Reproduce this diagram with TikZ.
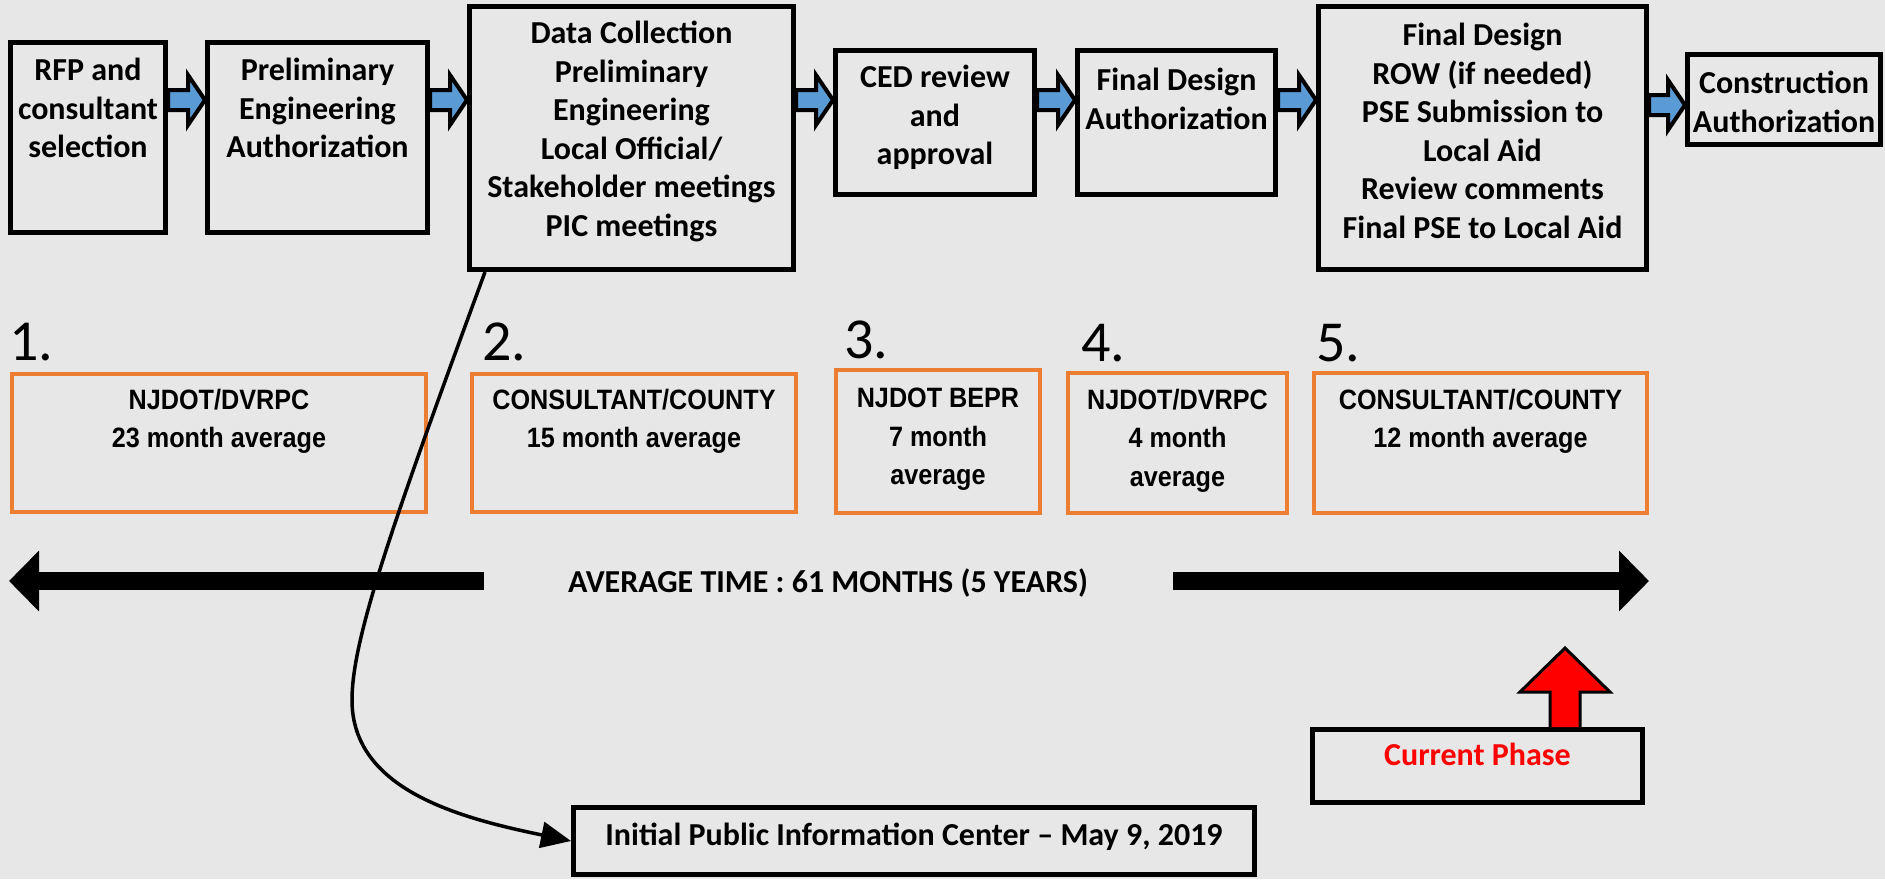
\documentclass[tikz,border=0pt]{standalone}
\usepackage{fontspec}
\setmainfont{Carlito}
\newfontfamily\narrowsans[FakeStretch=0.9]{Liberation Sans}
\usepackage{tikz}
\usetikzlibrary{arrows.meta,positioning,calc}

\definecolor{bggrey}{HTML}{E7E7E7}
\definecolor{flowblue}{HTML}{5B9BD5}
\definecolor{avgorange}{HTML}{ED7D31}

\newcommand{\flowarrow}[3]{%
  \draw[flow] let \p1=(#1.east |- 0,#3), \p2=(#2.west |- 0,#3) in
    (\x1,\y1+10pt) -- (\x2-17pt,\y1+10pt) -- (\x2-17pt,\y1+25pt) -- (\x2,\y1)
    -- (\x2-17pt,\y1-25pt) -- (\x2-17pt,\y1-10pt) -- (\x1,\y1-10pt) -- cycle;}

\begin{document}
\begin{tikzpicture}[x=1pt,y=-1pt,
    stage/.style={draw,line width=5pt,anchor=north west,inner sep=0pt},
    stagetext/.style={align=center,inner sep=0pt,
        font=\bfseries\fontsize{32}{38.5}\selectfont},
    agency/.style={draw=avgorange,line width=4pt,anchor=north west,inner sep=0pt},
    agencytext/.style={align=center,inner sep=0pt,
        font=\narrowsans\bfseries\fontsize{28}{38.5}\selectfont},
    phaseno/.style={anchor=base west,inner sep=0pt,font=\fontsize{58}{60}\selectfont},
    flow/.style={draw,line width=4pt,fill=flowblue},
    timeline/.style={line width=18pt,-{Triangle[length=30pt,width=59pt]}},
    picline/.style={line width=3.5pt,-{Triangle[length=30pt,width=26pt]}},
    nowarrow/.style={draw,line width=3pt,fill=red}]

  \path[use as bounding box,fill=bggrey] (0,0) rectangle (1885,879);

  \node[stage,minimum width=155pt,minimum height=190pt] (rfp) at (8,40) {};
  \node[stage,minimum width=220pt,minimum height=190pt] (pea) at (205,40) {};
  \node[stage,minimum width=324pt,minimum height=263pt] (dc) at (467,4) {};
  \node[stage,minimum width=199pt,minimum height=144pt] (ced) at (833,48) {};
  \node[stage,minimum width=198pt,minimum height=144pt] (fda) at (1075,48) {};
  \node[stage,minimum width=328pt,minimum height=263pt] (fd) at (1316,4) {};
  \node[stage,minimum width=193pt,minimum height=90pt] (ca) at (1685,52) {};

  \node[stagetext,below=18pt of rfp.north] {RFP and\\consultant\\selection};
  \node[stagetext,below=18pt of pea.north] {Preliminary\\Engineering\\Authorization};
  \node[stagetext,below=17pt of dc.north] {Data Collection\\Preliminary\\Engineering\\
    Local Official/\\Stakeholder meetings\\PIC meetings};
  \node[stagetext,below=17pt of ced.north] {CED review\\and\\approval};
  \node[stagetext,below=20pt of fda.north] {Final Design\\Authorization};
  \node[stagetext,below=19pt of fd.north] {Final Design\\ROW (if needed)\\
    PSE Submission to\\Local Aid\\Review comments\\Final PSE to Local Aid};
  \node[stagetext,below=19pt of ca.north] {Construction\\Authorization};

  \flowarrow{rfp}{pea}{100}
  \flowarrow{pea}{dc}{100}
  \flowarrow{dc}{ced}{100}
  \flowarrow{ced}{fda}{100}
  \flowarrow{fda}{fd}{100}
  \flowarrow{fd}{ca}{105}

  \node[phaseno] (n1) at (9,360) {1.};
  \node[phaseno] (n2) at (482,360) {2.};
  \node[phaseno] (n3) at (844,358) {3.};
  \node[phaseno] (n4) at (1081,361) {4.};
  \node[phaseno] (n5) at (1316,361) {5.};

  \node[agency,minimum width=414pt,minimum height=138pt] (nj1) at (10,372) {};
  \node[agency,minimum width=324pt,minimum height=138pt] (cc1) at (470,372) {};
  \node[agency,minimum width=204pt,minimum height=143pt] (bepr) at (834,368) {};
  \node[agency,minimum width=219pt,minimum height=140pt] (nj2) at (1066,371) {};
  \node[agency,minimum width=333pt,minimum height=140pt] (cc2) at (1312,371) {};

  \node[agencytext,below=17pt of nj1.north] {NJDOT/DVRPC\\23 month average};
  \node[agencytext,below=17pt of cc1.north] {CONSULTANT/COUNTY\\15 month average};
  \node[agencytext,below=20pt of bepr.north] {NJDOT BEPR\\7 month\\average};
  \node[agencytext,below=18pt of nj2.north] {NJDOT/DVRPC\\4 month\\average};
  \node[agencytext,below=18pt of cc2.north] {CONSULTANT/COUNTY\\12 month average};

  \node[stagetext] (avg) at (828,583) {AVERAGE TIME : 61 MONTHS (5 YEARS)};
  \coordinate (tl) at (484,581);
  \coordinate (tstart) at (9,581);
  \coordinate (tr) at (1173,581);
  \coordinate (tend) at (1649,581);
  \draw[timeline] (tl) -- (tstart);
  \draw[timeline] (tr) -- (tend);

  \node[stage,minimum width=681pt,minimum height=67pt] (pic) at (571,805) {};
  \node[stagetext,below=17.5pt of pic.north] {Initial Public Information Center -- May 9, 2019};
  \draw[picline] ([xshift=18pt]dc.south west) .. controls (390,530) and (352,640) .. (352,700)
    .. controls (352,790) and (460,818) .. (pic.west);

  \node[stage,minimum width=330pt,minimum height=73pt] (now) at (1310,727) {};
  \node[stagetext,text=red,below=15.5pt of now.north] {Current Phase};
  \draw[nowarrow] ([xshift=240pt]now.north west) -- ++(0,-35) -- ++(-30,0) -- ++(45,-44)
    -- ++(45,44) -- ++(-30,0) -- ++(0,35);

\end{tikzpicture}
\end{document}
